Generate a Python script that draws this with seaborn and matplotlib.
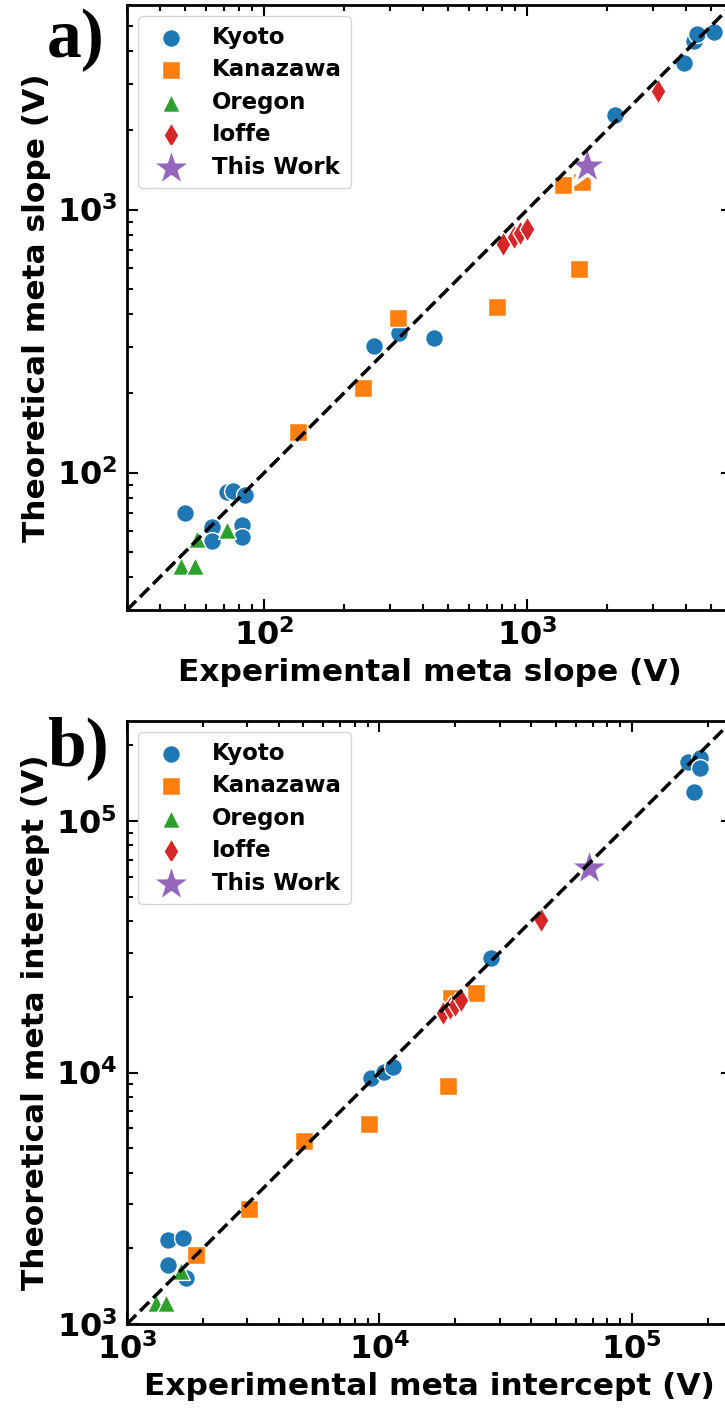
import pandas as pd
import seaborn as sns
import matplotlib.pyplot as plt

# groups and their look
groups = ["Kyoto", "Kanazawa", "Oregon", "Ioffe", "This Work"]
markers = {"Kyoto": "o", "Kanazawa": "s", "Oregon": "^", "Ioffe": "d", "This Work": "*"}
colors = {"Kyoto": "#1f77b4", "Kanazawa": "#ff7f0e", "Oregon": "#2ca02c",
          "Ioffe": "#d62728", "This Work": "#9467bd"}

# a) meta slope (V): experimental vs theoretical
kyoto_slope_exp = [50, 63, 63, 72, 76, 84, 82, 82, 262, 325, 443, 2150, 3950, 4290, 4410, 5110]
kyoto_slope_th = [70, 62, 55, 84, 85, 82, 63, 57, 304, 338, 326, 2290, 3600, 4390, 4670, 4750]
kanazawa_slope_exp = [134, 238, 322, 769, 1362, 1618, 1567]
kanazawa_slope_th = [142, 209, 388, 426, 1235, 1276, 594]
oregon_slope_exp = [48, 54.5, 55.6, 72]
oregon_slope_th = [44, 44, 56, 60.4]
ioffe_slope_exp = [806, 887, 940, 998, 3130]
ioffe_slope_th = [740, 787, 815, 844, 2830]
thiswork_slope_exp = [1690]
thiswork_slope_th = [1460]

# b) meta intercept (V)
kyoto_int_exp = [1458, 1662, 1458, 1707, 9310, 10400, 11320, 27800, 166800, 187500, 186400, 176500]
kyoto_int_th = [2164, 2188, 1717, 1519, 9500, 10060, 10560, 28500, 171700, 177800, 161900, 130400]
kanazawa_int_exp = [1875, 3050, 5020, 9100, 18770, 19300, 24230]
kanazawa_int_th = [1882, 2867, 5340, 6255, 8850, 19750, 20690]
oregon_int_exp = [1300, 1422, 1636]
oregon_int_th = [1213, 1213, 1619]
ioffe_int_exp = [17880, 19000, 19890, 21140, 43830]
ioffe_int_th = [17220, 18030, 18580, 19450, 40430]
thiswork_int_exp = [67650]
thiswork_int_th = [64900]

slope_lims = [30, 6000]
int_lims = [1000, 250000]


def make_df(pairs):
    frames = []
    for g, (xs, ys) in zip(groups, pairs):
        frames.append(pd.DataFrame({"exp": xs, "th": ys, "group": g}))
    return pd.concat(frames, ignore_index=True)


slope_df = make_df([(kyoto_slope_exp, kyoto_slope_th), (kanazawa_slope_exp, kanazawa_slope_th),
                    (oregon_slope_exp, oregon_slope_th), (ioffe_slope_exp, ioffe_slope_th),
                    (thiswork_slope_exp, thiswork_slope_th)])
int_df = make_df([(kyoto_int_exp, kyoto_int_th), (kanazawa_int_exp, kanazawa_int_th),
                  (oregon_int_exp, oregon_int_th), (ioffe_int_exp, ioffe_int_th),
                  (thiswork_int_exp, thiswork_int_th)])

sns.set_style("ticks")
plt.rcParams['font.family'] = ['DejaVu Sans']
plt.rcParams['font.weight'] = 'bold'
plt.rcParams['axes.labelweight'] = 'bold'
for key in ['text.color', 'axes.labelcolor', 'xtick.color', 'ytick.color', 'axes.edgecolor']:
    plt.rcParams[key] = 'black'


def draw_panel(ax, df, lims, xlabel, ylabel):
    for g in groups:
        sub = df[df["group"] == g]
        size = 1000 if g == "This Work" else 165
        sns.scatterplot(data=sub, x="exp", y="th", ax=ax, marker=markers[g],
                        color=colors[g], s=size, label=g, zorder=2)
    ax.plot(lims, lims, "k--", lw=2.5, zorder=3)
    ax.set_xscale("log")
    ax.set_yscale("log")
    ax.set_xlim(lims)
    ax.set_ylim(lims)
    ax.tick_params(which="both", direction="in", top=True, right=True, width=1.5)
    ax.tick_params(which="major", length=8, labelsize=23, pad=7)
    ax.tick_params(which="minor", length=4)
    for sp in ax.spines.values():
        sp.set_linewidth(2)
    ax.set_xlabel(xlabel, fontsize=22.5, fontweight="bold")
    ax.set_ylabel(ylabel, fontsize=22.5, fontweight="bold")
    ax.legend(loc="upper left", fontsize=16.5, labelspacing=0.42)


fig = plt.figure(figsize=(7.25, 14.08), dpi=100)
ax1 = fig.add_axes([127 / 725, 1 - 610 / 1408, 605 / 725, 605 / 1408])
ax2 = fig.add_axes([127 / 725, 1 - 1324 / 1408, 605 / 725, 603 / 1408])

draw_panel(ax1, slope_df, slope_lims, "Experimental meta slope (V)", "Theoretical meta slope (V)")
draw_panel(ax2, int_df, int_lims, "Experimental meta intercept (V)", "Theoretical meta intercept (V)")

fig.text(47 / 725, 1 - 57 / 1408, "a)", fontsize=50, fontweight="bold",
         family=["Liberation Serif"], va="baseline")
fig.text(47 / 725, 1 - 765 / 1408, "b)", fontsize=50, fontweight="bold",
         family=["Liberation Serif"], va="baseline")

fig.savefig("out.png", dpi=100)
